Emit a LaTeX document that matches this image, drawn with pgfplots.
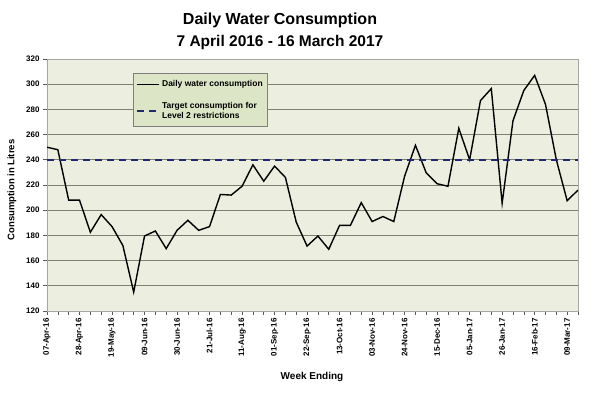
\documentclass[border=0pt]{standalone}
\usepackage{fontspec}
\setmainfont{Liberation Sans}
\usepackage{pgfplots}
\pgfplotsset{compat=1.18}
\definecolor{plotbg}{RGB}{236,238,223}
\definecolor{legbg}{RGB}{221,229,199}
\definecolor{gridc}{RGB}{128,128,112}
\definecolor{navyc}{RGB}{31,42,110}
\begin{document}
\begin{tikzpicture}[x=1pt,y=1pt]
\useasboundingbox (0,0) rectangle (607,393);
\begin{axis}[
  at={(47pt,82pt)}, anchor=south west,
  scale only axis, width=531pt, height=252pt,
  xmin=0, xmax=49, ymin=120, ymax=320,
  ytick={120,140,...,320},
  xtick={0,3,...,48},
  xticklabels={07-Apr-16,28-Apr-16,19-May-16,09-Jun-16,30-Jun-16,21-Jul-16,11-Aug-16,01-Sep-16,22-Sep-16,13-Oct-16,03-Nov-16,24-Nov-16,15-Dec-16,05-Jan-17,26-Jan-17,16-Feb-17,09-Mar-17},
  minor xtick={0,...,49},
  tick pos=left, tick align=outside,
  major tick length=4pt, minor tick length=4pt,
  every tick/.style={gray!70!black, line width=0.6pt},
  every minor tick/.style={gray!70!black, line width=0.6pt},
  /pgf/number format/assume math mode=true,
  x tick label style={rotate=90, anchor=east, font=\fontsize{8}{9}\selectfont\bfseries},
  y tick label style={font=\fontsize{8}{9}\selectfont\bfseries},
  axis background/.style={fill=plotbg},
  axis line style={gray!70, line width=0.8pt},
  ymajorgrids,
  major grid style={gridc, line width=0.8pt},
  legend style={at={(0.162,0.944)}, anchor=north west, fill=legbg, draw=gray, line width=0.6pt,
    font=\fontsize{8.5}{10}\selectfont\bfseries, cells={anchor=west, align=left},
    row sep=10pt, inner xsep=3pt, inner ysep=5pt},
  legend image code/.code={\draw[#1] (0pt,0pt) -- (22pt,0pt);},
]
\addplot[black, line width=1.4pt] coordinates {
(0,250) (1,248) (2,208) (3,208) (4,182.5) (5,196.5) (6,187) (7,172) (8,135) (9,179.5)
(10,183.5) (11,169.5) (12,184) (13,192) (14,184) (15,187) (16,212.5) (17,212) (18,219) (19,236)
(20,223) (21,235) (22,226) (23,190.5) (24,171.5) (25,179.5) (26,169) (27,188) (28,188) (29,206)
(30,191) (31,195) (32,191) (33,227) (34,251.5) (35,229.5) (36,221) (37,219) (38,265) (39,240)
(40,287) (41,296.5) (42,205.5) (43,271) (44,295) (45,307) (46,284) (47,240) (48,207.5) (49,216)
};
\addlegendentry{Daily water consumption}
\addplot[navyc, line width=1.8pt, dash pattern=on 7pt off 5pt] coordinates {(0,240) (49,240)};
\addlegendentry{Target consumption for\\Level 2 restrictions}
\end{axis}
\node[font=\fontsize{16}{18}\selectfont\bfseries] at (280,373) {Daily Water Consumption};
\node[font=\fontsize{15.5}{18}\selectfont\bfseries] at (280,351) {7 April 2016 - 16 March 2017};
\node[font=\fontsize{10}{11}\selectfont\bfseries] at (312,16) {Week Ending};
\node[font=\fontsize{9.5}{10}\selectfont\bfseries, rotate=90] at (12,203) {Consumption in Litres};
\end{tikzpicture}
\end{document}
